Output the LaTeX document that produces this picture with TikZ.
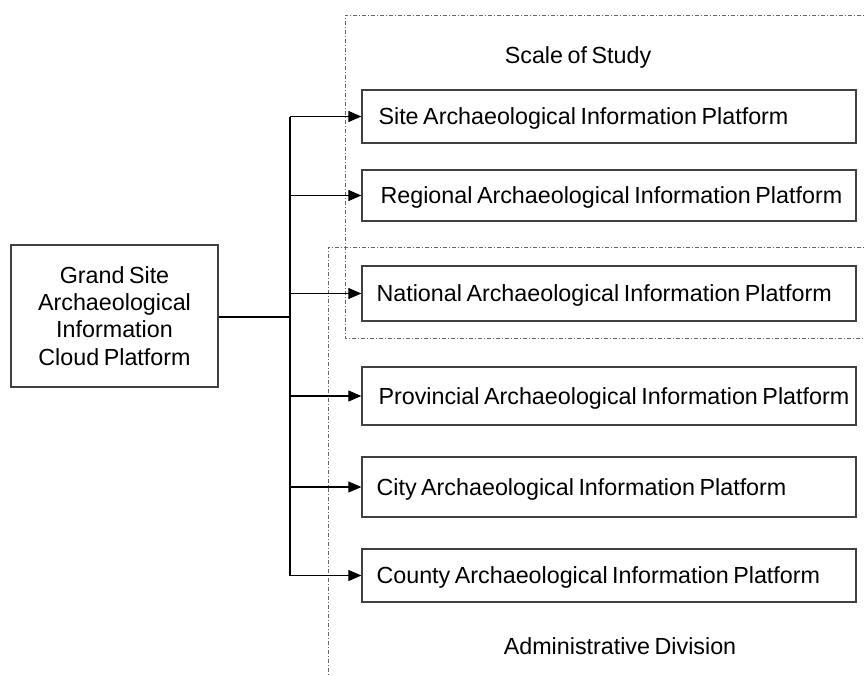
\documentclass[tikz,border=0pt]{standalone}
\usepackage{fontspec}
\setmainfont[WordSpace=0.7]{Liberation Sans}
\usetikzlibrary{arrows.meta}
\begin{document}
\begin{tikzpicture}[x=1pt,y=-1pt,
  box/.style={draw=black!75, line width=1.3pt, minimum width=494pt, inner sep=0pt},
  lbl/.style={anchor=west, inner sep=0pt, font=\fontsize{23.3}{27}\selectfont},
  conn/.style={draw=black, line width=1.1pt},
  arr/.style={conn, -{Triangle[length=13pt,width=11pt]}},
  dd/.style={draw=black!60, line width=0.9pt, dash pattern=on 4pt off 2pt on 1pt off 2pt}]
\useasboundingbox (0,0) rectangle (864,675);
% dash-dot regions
\draw[dd] (870,15) -- (345,15) -- (345,338) -- (870,338);
\draw[dd] (870,247) -- (328,247) -- (328,680);
\node[font=\fontsize{23.3}{27}\selectfont] (scale) at (578,57) {Scale of Study};
\node[font=\fontsize{23.3}{27}\selectfont] (admin) at (620,646) {Administrative Division};
% main box
\node[box, minimum width=207pt, minimum height=142pt, align=center,
      font=\fontsize{23.3}{27.3}\selectfont] (main) at (114.5,316)
  {Grand Site\\Archaeological\\Information\\Cloud Platform};
% platform boxes
\node[box, minimum height=53pt] (site) at (609,116.5) {};
\node[box, minimum height=51pt] (reg) at (609,195.5) {};
\node[box, minimum height=55pt] (nat) at (609,293.5) {};
\node[box, minimum height=58pt] (prov) at (609,396) {};
\node[box, minimum height=60pt] (city) at (609,487) {};
\node[box, minimum height=53pt] (county) at (609,575.5) {};
\node[lbl] (tsite) at ([xshift=17pt,yshift=-2pt]site.west) {Site Archaeological Information Platform};
\node[lbl] (treg) at ([xshift=19pt,yshift=-2pt]reg.west) {Regional Archaeological Information Platform};
\node[lbl] (tnat) at ([xshift=15pt,yshift=-2pt]nat.west) {National Archaeological Information Platform};
\node[lbl] (tprov) at ([xshift=17pt,yshift=-2pt]prov.west) {Provincial Archaeological Information Platform};
\node[lbl] (tcity) at ([xshift=15pt,yshift=-2pt]city.west) {City Archaeological Information Platform};
\node[lbl] (tcounty) at ([xshift=15pt,yshift=-2pt]county.west) {County Archaeological Information Platform};
% connectors
\coordinate (j) at (290,317);
\draw[conn] (main.east |- j) -- (j);
\draw[conn] (site.west -| j) -- (county.west -| j);
\foreach \n in {site,reg,nat,prov,city,county}
  \draw[arr] (\n.west -| j) -- (\n.west);
\end{tikzpicture}
\end{document}
